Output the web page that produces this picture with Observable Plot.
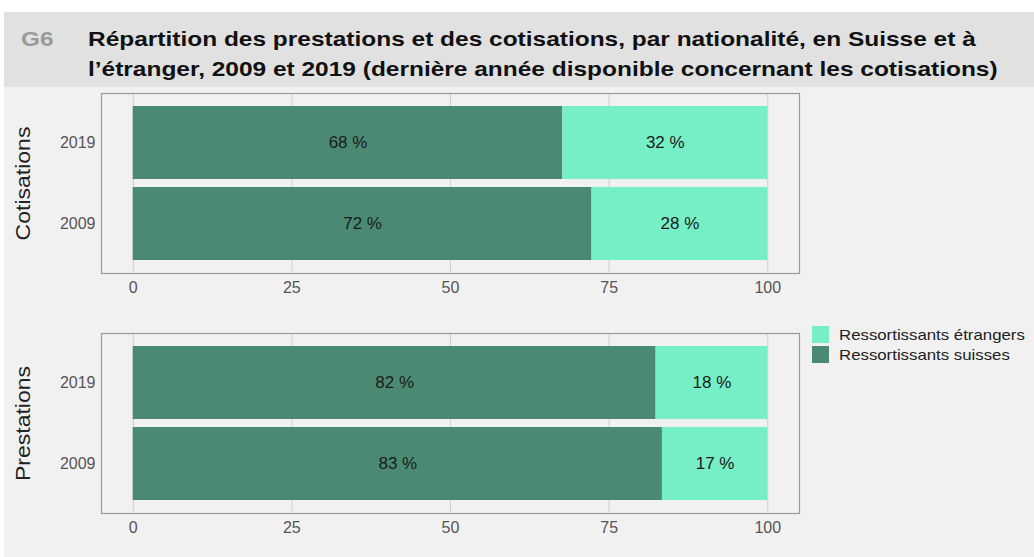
<!DOCTYPE html>
<html>
<head>
<meta charset="utf-8">
<script src="https://cdn.jsdelivr.net/npm/d3@7"></script>
<script src="https://cdn.jsdelivr.net/npm/@observablehq/plot@0.6"></script>
<style>
  html, body { margin: 0; padding: 0; }
  body { width: 1034px; height: 557px; background: #ffffff; position: relative; overflow: hidden; font-family: "Liberation Sans", Arial, sans-serif; }
  #bg { position: absolute; left: 4px; top: 12px; width: 1030px; height: 545px; background: #f1f1f1; }
  #title { position: absolute; left: 4px; top: 12px; width: 1030px; height: 75px; background: #e1e1e1; }
  #title .g { position: absolute; left: 17px; top: 12px; font-weight: bold; font-size: 21px; line-height: 30px; color: #9a9a9a; transform: scaleX(1.16); transform-origin: left top; }
  #title .t { position: absolute; left: 84px; top: 12px; font-weight: bold; font-size: 21px; line-height: 30px; color: #111; white-space: nowrap; transform: scaleX(1.165); transform-origin: left top; }
  .plot { position: absolute; left: 0; }
  .facet { position: absolute; font-size: 20px; color: #222; transform: rotate(-90deg) scaleX(1.15); transform-origin: center center; white-space: nowrap; text-align: center; width: 160px; }
  #legend { position: absolute; left: 812px; top: 324px; font-size: 15px; color: #222; }
  #legend .row { display: flex; align-items: center; height: 20px; }
  #legend .sw { width: 17px; height: 17px; margin-right: 10px; }
  #legend span { display: inline-block; transform: scaleX(1.12); transform-origin: left center; white-space: nowrap; }
</style>
</head>
<body>
<div id="bg"></div>
<div id="title"><div class="g">G6</div><div class="t">Répartition des prestations et des cotisations, par nationalité, en Suisse et à<br>l’étranger, 2009 et 2019 (dernière année disponible concernant les cotisations)</div></div>
<div id="p1" class="plot" style="top:88px"></div>
<div id="p2" class="plot" style="top:300px"></div>
<div class="facet" style="left:-57px; top:172px">Cotisations</div>
<div class="facet" style="left:-57px; top:412px">Prestations</div>
<div id="legend"></div>
<script>
const years = ["2019", "2009"];
const nationalities = ["Ressortissants suisses", "Ressortissants étrangers"];
const colors = ["#4a8a73", "#76efc6"];
const cotisationsSuisses = [67.7, 72.3];   // 2019, 2009
const cotisationsEtrangers = [32.3, 27.7];
const prestationsSuisses = [82.4, 83.4];
const prestationsEtrangers = [17.6, 16.6];
const xTicks = [0, 25, 50, 75, 100];

function rows(suisses, etrangers) {
  const out = [];
  years.forEach((y, i) => {
    out.push({year: y, nat: nationalities[0], value: suisses[i]});
    out.push({year: y, nat: nationalities[1], value: etrangers[i]});
  });
  return out;
}

function chart(data, marginTop, height) {
  return Plot.plot({
    width: 1034,
    height,
    marginLeft: 101,
    marginRight: 235,
    marginTop,
    marginBottom: height - marginTop - 180,
    style: {background: "transparent", fontFamily: "Liberation Sans, Arial, sans-serif", fontSize: "16px", color: "#555"},
    x: {domain: [-5, 105], ticks: xTicks, tickSize: 0, tickPadding: 8, label: null},
    y: {domain: years, paddingInner: 0.1, paddingOuter: 0.15, tickSize: 0, tickPadding: 6, label: null},
    color: {domain: nationalities, range: colors},
    marks: [
      Plot.gridX(xTicks, {stroke: "#cfcfcf", strokeOpacity: 1, strokeWidth: 1}),
      Plot.barX(data, Plot.stackX({x: "value", y: "year", fill: "nat", z: "nat", order: nationalities})),
      Plot.textX(data, Plot.stackX({x: "value", y: "year", z: "nat", order: nationalities, text: d => Math.round(d.value) + " %", fill: "#1a1a1a", fontSize: 17})),
      Plot.frame({stroke: "#9a9a9a", strokeWidth: 1.2})
    ]
  });
}

document.getElementById("p1").append(chart(rows(cotisationsSuisses, cotisationsEtrangers), 5, 212));
document.getElementById("p2").append(chart(rows(prestationsSuisses, prestationsEtrangers), 33, 241));

const legend = document.getElementById("legend");
[[nationalities[1], colors[1]], [nationalities[0], colors[0]]].forEach(([name, c]) => {
  const row = document.createElement("div");
  row.className = "row";
  const sw = document.createElement("div");
  sw.className = "sw";
  sw.style.background = c;
  const t = document.createElement("span");
  t.textContent = name;
  row.append(sw, t);
  legend.append(row);
});
</script>
</body>
</html>
